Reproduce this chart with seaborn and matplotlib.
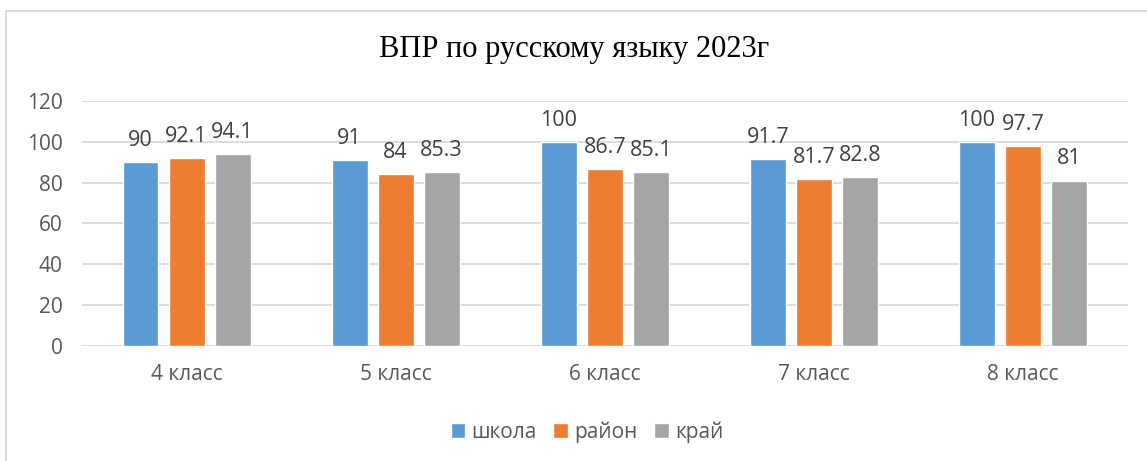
# ВПР по русскому языку 2023г - grouped bar chart

import pandas as pd
import seaborn as sns
import matplotlib.pyplot as plt
from matplotlib.lines import Line2D

# data
classes = ["4 класс", "5 класс", "6 класс", "7 класс", "8 класс"]
series = ["школа", "район", "край"]
school = [90, 91, 100, 91.7, 100]
district = [92.1, 84, 86.7, 81.7, 97.7]
region = [94.1, 85.3, 85.1, 82.8, 81]
colors = ["#5B9BD5", "#ED7D31", "#A5A5A5"]

df = pd.DataFrame({
    "Класс": classes * 3,
    "Группа": [series[0]] * 5 + [series[1]] * 5 + [series[2]] * 5,
    "Процент": school + district + region,
})

# plot
sns.set_style("white")
plt.rcParams["font.family"] = ["Open Sans", "DejaVu Sans"]

fig = plt.figure(figsize=(11.47, 4.61), dpi=100)
ax = fig.add_axes([0.0715, 0.2495, 0.9115, 0.5315])

sns.barplot(
    data=df, x="Класс", y="Процент", hue="Группа",
    palette=colors, width=0.66, gap=0.22, ax=ax,
    saturation=1, legend=True
)

for cont in ax.containers:
    ax.bar_label(cont, fmt="%g", padding=8, fontsize=15.5, color="#404040")

ax.set_ylim(0, 120)
ax.set_yticks(range(0, 121, 20))
ax.yaxis.grid(True, color="#D9D9D9", linewidth=1.3)
ax.set_axisbelow(True)
for s in ax.spines.values():
    s.set_visible(False)
ax.set_xlabel("")
ax.set_ylabel("")
ax.tick_params(axis="both", length=0, labelsize=15, colors="#595959")
ax.tick_params(axis="x", pad=13)
ax.tick_params(axis="y", pad=14)

ax.legend(
    loc="center", bbox_to_anchor=(587 / 1147, 1 - 432 / 461),
    bbox_transform=fig.transFigure, ncol=3, frameon=False,
    fontsize=15, labelcolor="#595959", handlelength=0.7, handleheight=0.7,
    handletextpad=0.3, columnspacing=0.8
)

fig.text(574 / 1147, 1 - 50 / 461, "ВПР по русскому языку 2023г",
         family="Liberation Serif", fontsize=22, ha="center", va="center",
         color="#000000")

# chart border
bx, by = 6 / 1147, 1 - 11 / 461
fig.add_artist(Line2D([bx, bx], [0, by], color="#D9D9D9", lw=1.3))
fig.add_artist(Line2D([bx, 1], [by, by], color="#D9D9D9", lw=1.3))

plt.savefig("out.png", dpi=100)
